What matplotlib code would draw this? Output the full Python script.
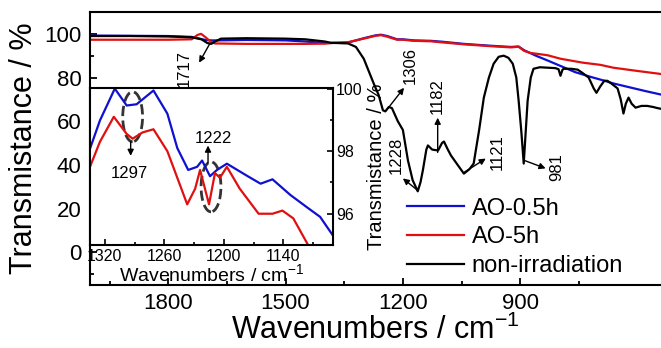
import matplotlib
matplotlib.use('Agg')
import matplotlib.pyplot as plt
from matplotlib.patches import Ellipse
from matplotlib.ticker import MultipleLocator, FixedLocator

plt.rcParams['font.family'] = ['Liberation Sans', 'DejaVu Sans']
plt.rcParams['mathtext.fontset'] = 'custom'
plt.rcParams['mathtext.rm'] = 'Liberation Sans'
plt.rcParams['mathtext.default'] = 'regular'

# main spectra (wavenumber, transmittance)
wn_black = [2000, 1900, 1800, 1740, 1715, 1700, 1690, 1680, 1665, 1600, 1500, 1450, 1400, 1384,
            1340, 1320, 1300, 1274, 1262, 1251, 1245, 1236, 1228, 1213, 1200, 1187, 1175, 1162,
            1155, 1149, 1140, 1136, 1125, 1110, 1100, 1095, 1085, 1077, 1060, 1044, 1030, 1019,
            1005, 993, 980, 968, 955, 942, 930, 919, 910, 904, 897, 891, 886, 881, 873, 866,
            850, 830, 810, 802, 797, 792, 789, 770, 753, 740, 725, 712, 705, 695, 685, 677,
            665, 651, 643, 636, 630, 623, 615, 605, 590, 575, 560, 549, 535]
t_black = [99.0, 99.0, 98.8, 98.4, 97.5, 95.8, 95.4, 96.5, 97.8, 98.0, 97.8, 97.5, 96.5, 95.9,
           95.6, 94.0, 88.6, 77.0, 72.0, 65.0, 64.5, 66.5, 66.0, 60.0, 56.0, 42.0, 33.0, 27.9,
           32.0, 37.4, 47.0, 48.9, 47.0, 46.6, 50.0, 50.7, 47.0, 44.3, 40.0, 36.0, 38.0, 40.6,
           56.0, 70.8, 80.0, 86.3, 89.5, 90.0, 89.0, 86.3, 80.0, 69.4, 55.0, 40.6, 55.0, 69.4, 80.0, 84.0,
           84.7, 84.5, 84.3, 83.8, 80.8, 83.5, 84.0, 84.0, 83.6, 82.0, 80.0, 75.0, 73.0, 76.0, 78.5, 78.5,
           77.0, 75.0, 70.0, 63.5, 68.0, 70.8, 68.0, 66.2, 67.0, 67.0, 66.5, 66.0, 65.5]

wn_blue = [2000, 1800, 1740, 1720, 1705, 1690, 1670, 1600, 1500, 1450, 1400, 1384, 1340, 1300,
           1270, 1256, 1240, 1215, 1200, 1172, 1129, 1100, 1044, 980, 924, 904, 890, 860, 830,
           797, 760, 720, 690, 662, 620, 580, 535]
t_blue = [99.2, 99.0, 98.6, 97.8, 97.2, 97.0, 97.0, 97.2, 97.0, 96.5, 95.8, 95.8, 96.0, 98.0,
          99.3, 99.6, 99.0, 97.5, 97.5, 97.0, 96.8, 96.4, 95.4, 94.6, 94.0, 94.2, 92.5, 90.0, 87.8,
          85.3, 82.5, 80.3, 78.8, 77.3, 75.5, 73.8, 72.0]

wn_red = [2000, 1800, 1740, 1725, 1716, 1705, 1690, 1680, 1600, 1500, 1450, 1400, 1384, 1340,
          1300, 1270, 1256, 1240, 1215, 1200, 1172, 1129, 1100, 1044, 980, 924, 904, 890, 875,
          830, 797, 740, 695, 662, 600, 535]
t_red = [97.3, 97.3, 97.5, 99.5, 100.0, 98.5, 96.2, 95.6, 95.4, 95.4, 95.4, 95.5, 95.8, 96.2,
         97.8, 99.1, 99.4, 98.7, 97.3, 97.3, 96.8, 96.6, 96.1, 95.2, 94.4, 93.8, 94.1, 92.2, 91.3,
         90.2, 88.6, 86.8, 85.8, 84.5, 83.0, 81.5]

# inset spectra
wn_in_blue = [1335, 1325, 1310, 1298, 1288, 1271, 1257, 1247, 1236, 1227, 1222, 1214, 1207,
              1197, 1176, 1163, 1151, 1133, 1116, 1103, 1090]
t_in_blue = [98.08, 98.98, 100.0, 99.46, 99.5, 99.94, 99.2, 98.1, 97.4, 97.5, 97.7, 97.2, 97.4,
             97.6, 97.2, 96.96, 97.1, 96.6, 96.2, 95.9, 95.3]

wn_in_red = [1335, 1325, 1311, 1298, 1292, 1282, 1271, 1257, 1247, 1237, 1229, 1224, 1215, 1209,
             1204, 1197, 1184, 1165, 1151, 1141, 1130, 1116]
t_in_red = [97.5, 98.3, 99.1, 98.55, 98.4, 98.6, 98.7, 98.0, 97.15, 96.3, 96.8, 97.4, 96.3, 97.3,
            97.15, 97.5, 96.8, 96.0, 96.0, 96.1, 95.85, 95.05]

x_major = [1800, 1500, 1200, 900]
x_minor = [1950, 1650, 1350, 1050, 750]

fig = plt.figure(figsize=(6.61, 3.48), dpi=100)
ax = fig.add_axes([90 / 661, 1 - 285 / 348, 571 / 661, 273 / 348])

ax.plot(wn_blue, t_blue, color='#1010d0', lw=1.6, label='AO-0.5h')
ax.plot(wn_red, t_red, color='#e01010', lw=1.6, label='AO-5h')
ax.plot(wn_black, t_black, color='black', lw=1.6, label='non-irradiation')

ax.set_xlim(2000, 540)
ax.set_ylim(-15, 110)
ax.xaxis.set_major_locator(FixedLocator(x_major))
ax.xaxis.set_minor_locator(FixedLocator(x_minor))
ax.yaxis.set_major_locator(FixedLocator([0, 20, 40, 60, 80, 100]))
ax.yaxis.set_minor_locator(MultipleLocator(10))
ax.tick_params(which='both', direction='in', top=False, right=False, labelsize=16, width=1.3)
ax.tick_params(which='major', length=5, pad=6)
ax.tick_params(which='minor', length=3)
for s in ax.spines.values():
    s.set_linewidth(1.5)
ax.spines['right'].set_visible(False)
ax.set_xlabel('Wavenumbers / cm$^{-1}$', fontsize=22, labelpad=0)
ax.set_ylabel('Transmistance / %', fontsize=22, labelpad=4)

ax.legend(loc='lower left', bbox_to_anchor=(0.555, 0.03), frameon=False, fontsize=17,
          handlelength=2.4, handletextpad=0.35, labelspacing=0.28, borderpad=0, borderaxespad=0)

arrow = dict(arrowstyle='-|>', color='black', lw=1, mutation_scale=9, shrinkA=0, shrinkB=0)
# main peak annotations: (label, text pos, arrow tail, arrow head)
notes = [('1717', (1759, 84), (1694, 95.4), (1721, 86.8)),
         ('1306', (1180, 85.4), (1243, 64.8), (1197, 75.3)),
         ('1182', (1111, 71.7), (1111, 45.7), (1111, 61.6)),
         ('1228', (1218, 44.3), (1162, 28.3), (1200, 33.8)),
         ('1121', (958, 45.7), (1044, 36.5), (988, 42.9)),
         ('981', (807, 38.8), (889, 42.0), (835, 38.4))]
for lab, tpos, tail, head in notes:
    ax.annotate('', xy=head, xytext=tail, arrowprops=arrow)
    ax.text(tpos[0], tpos[1], lab, rotation=90, fontsize=12, ha='center', va='center')

# inset
axi = fig.add_axes([90 / 661, 1 - 245 / 348, 243 / 661, 157 / 348])
axi.plot(wn_in_blue, t_in_blue, color='#1010d0', lw=1.6)
axi.plot(wn_in_red, t_in_red, color='#e01010', lw=1.6)
axi.set_xlim(1335, 1090)
axi.set_ylim(95, 100.02)
axi.xaxis.set_major_locator(MultipleLocator(60))
axi.xaxis.set_minor_locator(MultipleLocator(30))
axi.yaxis.set_major_locator(FixedLocator([96, 98, 100]))
axi.yaxis.set_minor_locator(MultipleLocator(1))
axi.yaxis.tick_right()
axi.yaxis.set_label_position('right')
axi.tick_params(which='both', direction='in', labelsize=11.5, width=1.2)
axi.tick_params(axis='x', pad=3)
axi.tick_params(axis='y', pad=2)
axi.tick_params(which='major', length=4)
axi.tick_params(which='minor', length=2.5)
for s in axi.spines.values():
    s.set_linewidth(1.5)
axi.set_xlabel('Wavenumbers / cm$^{-1}$', fontsize=14, labelpad=-0.5)
axi.set_ylabel('Transmistance / %', fontsize=14.5, labelpad=3)

for cx, cy in [(1292, 99.1), (1213, 96.86)]:
    axi.add_patch(Ellipse((cx, cy), width=20, height=1.6, fill=False, ls='--',
                          edgecolor='#333333', lw=2))
axi.annotate('', xy=(1294, 97.85), xytext=(1294, 98.3), arrowprops=arrow)
axi.text(1295, 97.3, '1297', fontsize=12, ha='center', va='center')
axi.annotate('', xy=(1216, 98.18), xytext=(1216, 97.62), arrowprops=arrow)
axi.text(1211, 98.42, '1222', fontsize=12, ha='center', va='center')

fig.savefig('out.png', dpi=100)
